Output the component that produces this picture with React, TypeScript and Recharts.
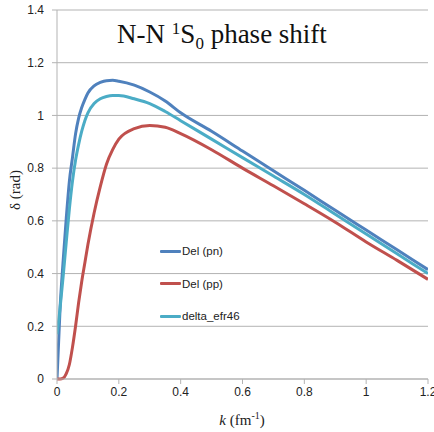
import { LineChart, Line, XAxis, YAxis, CartesianGrid } from 'recharts'

// k in fm^-1
const kValues = [0, 0.01, 0.02, 0.03, 0.04, 0.05, 0.06, 0.07, 0.08, 0.09, 0.1, 0.12, 0.14, 0.16, 0.18, 0.2, 0.25, 0.3, 0.35, 0.4, 0.5, 0.6, 0.7, 0.8, 0.9, 1.0, 1.1, 1.2]
const delPn = [0, 0.27, 0.45, 0.61, 0.75, 0.84, 0.93, 0.99, 1.03, 1.06, 1.085, 1.112, 1.125, 1.132, 1.133, 1.13, 1.115, 1.089, 1.055, 1.01, 0.94, 0.865, 0.79, 0.716, 0.64, 0.565, 0.49, 0.415]
const delPp = [0, 0, 0.003, 0.02, 0.055, 0.12, 0.2, 0.29, 0.37, 0.44, 0.51, 0.63, 0.73, 0.815, 0.87, 0.91, 0.95, 0.962, 0.955, 0.931, 0.87, 0.8, 0.733, 0.665, 0.595, 0.52, 0.45, 0.378]
const deltaEfr46 = [0.17, 0.27, 0.39, 0.52, 0.645, 0.75, 0.83, 0.89, 0.94, 0.98, 1.01, 1.045, 1.063, 1.072, 1.076, 1.076, 1.063, 1.045, 1.015, 0.98, 0.91, 0.84, 0.77, 0.7, 0.625, 0.55, 0.475, 0.4]

const xTicks = [0, 0.2, 0.4, 0.6, 0.8, 1, 1.2]
const yTicks = [0, 0.2, 0.4, 0.6, 0.8, 1, 1.2, 1.4]

const series = [
  { key: 'pn', name: 'Del (pn)', color: '#4F81BD' },
  { key: 'pp', name: 'Del (pp)', color: '#C0504D' },
  { key: 'efr', name: 'delta_efr46', color: '#4BACC6' },
]

const data = kValues.map((k, i) => ({ k, pn: delPn[i], pp: delPp[i], efr: deltaEfr46[i] }))

const tickStyle = { fontFamily: '"Liberation Sans", Arial, sans-serif', fontSize: 12, fill: '#222' }
const axisColor = '#b3b3b3'
const serif = '"Liberation Serif", "Times New Roman", serif'

// legend sits inside the plot, like the original
function LegendBox() {
  return (
    <div style={{ position: 'absolute', left: 160, top: 235, fontFamily: '"Liberation Sans", Arial, sans-serif', fontSize: 11.5, color: '#222' }}>
      {series.map((s) => (
        <div key={s.key} style={{ display: 'flex', alignItems: 'center', height: 32.5 }}>
          <div style={{ width: 21, height: 3, background: s.color, borderRadius: 1 }} />
          <span style={{ marginLeft: 1 }}>{s.name}</span>
        </div>
      ))}
    </div>
  )
}

export default function App() {
  return (
    <div style={{ position: 'absolute', left: 0, top: 0, width: 434, height: 432, background: '#fff' }}>
      <LineChart width={434} height={432} data={data} margin={{ top: 10, right: 6, bottom: 0, left: 0 }}>
        <CartesianGrid vertical={false} stroke={axisColor} strokeWidth={1} />
        <XAxis
          dataKey="k"
          type="number"
          domain={[0, 1.2]}
          ticks={xTicks}
          height={53}
          tick={tickStyle}
          tickSize={5}
          tickMargin={3}
          stroke={axisColor}
          interval={0}
          allowDataOverflow
        />
        <YAxis
          type="number"
          domain={[0, 1.4]}
          ticks={yTicks}
          width={57}
          tick={tickStyle}
          tickSize={5}
          tickMargin={8}
          stroke={axisColor}
          interval={0}
        />
        {series.map((s) => (
          <Line
            key={s.key}
            type="monotone"
            dataKey={s.key}
            name={s.name}
            stroke={s.color}
            strokeWidth={3}
            dot={false}
            isAnimationActive={false}
          />
        ))}
        <text x={222} y={43} textAnchor="middle" fontFamily={serif} fontSize={27} fill="#111">
          N-N <tspan dy={-9} fontSize={17}>1</tspan><tspan dy={9}>S</tspan><tspan dy={6} fontSize={17}>0</tspan><tspan dy={-6}> phase shift</tspan>
        </text>
        <text x={242} y={425} textAnchor="middle" fontFamily={serif} fontSize={15} fill="#222">
          <tspan fontStyle="italic">k</tspan> (fm<tspan dy={-6} fontSize={10}>-1</tspan><tspan dy={6}>)</tspan>
        </text>
        <text x={20} y={190} textAnchor="middle" transform="rotate(-90 20 190)" fontFamily={serif} fontSize={15} fill="#222">
          δ (rad)
        </text>
      </LineChart>
      <LegendBox />
    </div>
  )
}
